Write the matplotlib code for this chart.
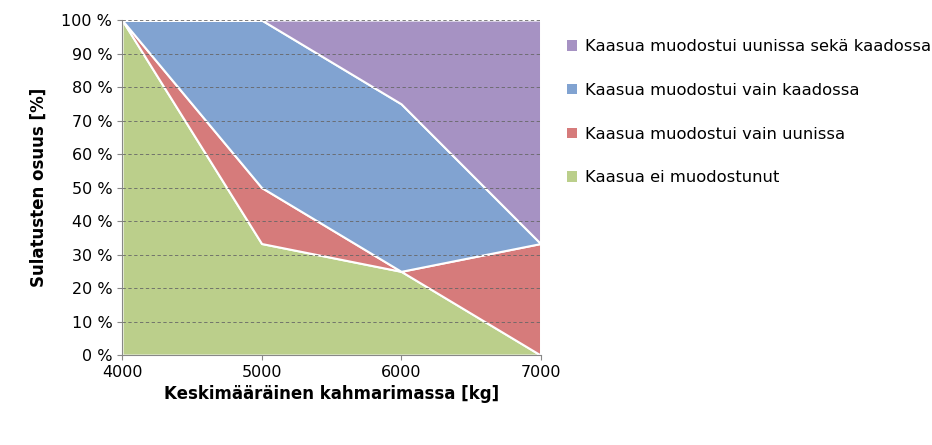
import matplotlib
matplotlib.use("Agg")
import matplotlib.pyplot as plt
from matplotlib.patches import Patch
import numpy as np

x = [4000, 5000, 6000, 7000]
green = [100, 33.3, 25, 0]
red = [0, 16.7, 0, 33.3]
blue = [0, 50, 50, 0]
purple = [0, 0, 25, 66.7]
labels = ["Kaasua ei muodostunut", "Kaasua muodostui vain uunissa",
          "Kaasua muodostui vain kaadossa", "Kaasua muodostui uunissa sekä kaadossa"]
colors = ["#BBCF8B", "#D67B7B", "#81A3D1", "#A692C3"]

fig = plt.figure(figsize=(9.32, 4.45), dpi=100)
ax = fig.add_axes([0.131, 0.202, 0.449, 0.753])
ax.stackplot(x, green, red, blue, purple, colors=colors, edgecolor="white", linewidth=1.5, zorder=2)
ax.set_xlim(4000, 7000)
ax.set_ylim(0, 100)
ax.set_xticks([4000, 5000, 6000, 7000])
ax.set_yticks(range(0, 101, 10))
ax.set_yticklabels([f"{v} %" for v in range(0, 101, 10)])
ax.yaxis.grid(True, linestyle=(0, (4, 3)), color="#666666", linewidth=0.6, zorder=3)
ax.set_axisbelow(False)
for s in ["top", "right"]:
    ax.spines[s].set_visible(False)
for s in ["left", "bottom"]:
    ax.spines[s].set_color("#888888")
ax.tick_params(labelsize=11.5, color="#888888")
ax.set_xlabel("Keskimääräinen kahmarimassa [kg]", fontsize=12, fontweight="bold")
ax.set_ylabel("Sulatusten osuus [%]", fontsize=12, fontweight="bold", labelpad=10)
handles = [Patch(facecolor=c) for c in colors[::-1]]
fig.legend(handles, labels[::-1], loc="upper left", bbox_to_anchor=(0.593, 0.945),
           frameon=False, fontsize=11.8, handlelength=0.6, handleheight=0.6,
           labelspacing=1.75, handletextpad=0.5)
fig.savefig("out.png")
